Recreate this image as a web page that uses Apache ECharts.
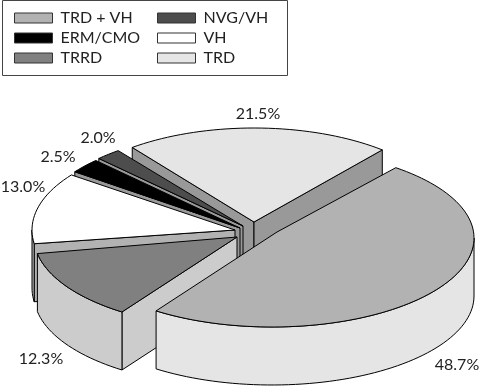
<!DOCTYPE html>
<html><head><meta charset="utf-8">
<style>html,body{margin:0;padding:0;background:#fff}#c{width:482px;height:386px}</style>
<script src="https://cdn.jsdelivr.net/npm/echarts@6/dist/echarts.min.js"></script>
</head><body><div id="c"></div>
<script>
// data
const categories = ['TRD','TRD + VH','TRRD','VH','ERM/CMO','NVG/VH'];
const percents   = [21.5, 48.7, 12.3, 13.0, 2.5, 2.0];
// style and layout, by category
const topColors  = ['#e5e5e5','#b2b2b2','#808080','#ffffff','#000000','#4d4d4d'];
const sideColors = ['#999999','#e5e5e5','#cccccc','#b2b2b2','#999999','#999999'];
const drawOrder  = [0,5,4,3,2,1];
const legendLeft = ['TRD + VH','ERM/CMO','TRRD'];
const legendRight= ['NVG/VH','VH','TRD'];
const startDeg = 232.5, depth = 58, FONT = '16px Lato, sans-serif';
// exploded apex x,y; radii rx,ry; arc centre shift x,y
const shapes = [[254,222,200,94,0,0],[277,232,202,89,-5,6],[237,237,203,91,0,0],[235,230,203,93,0,0],[240,228,205,95,0,0],[243,226,205,95,0,0]];
const nudges = [[0,0],[-2.1,-0.2],[-0.7,0],[2,0],[0,0],[0,0]];
const labelAt = [[258,114],[457,365],[41,359],[23,187],[58,157],[98,138]];

const total = percents.reduce((a,b)=>a+b,0);
const rad = d => d*Math.PI/180;
function renderSlice(i, api){
  const value = api.value(0);
  let before = 0; for(let k=0;k<i;k++) before += percents[k];
  const t1 = startDeg + before/total*360 + nudges[i][0];
  const t2 = startDeg + (before+value)/total*360 + nudges[i][1];
  const [ax,ay,rx,ry,sx,sy] = shapes[i];
  const pt = (t,dy=0)=>[ax+sx+rx*Math.cos(rad(t)), ay+sy+ry*Math.sin(rad(t))+dy];
  const arc = (a,b,dy=0)=>{const n=Math.max(2,Math.ceil((b-a)/2)),r=[];for(let j=0;j<=n;j++)r.push(pt(a+(b-a)*j/n,dy));return r;};
  const stroke={stroke:'#000',lineWidth:1,lineJoin:'round'};
  const kids=[];
  const poly=(points,fill)=>kids.push({type:'polygon',shape:{points},style:Object.assign({fill},stroke)});
  const cut=(t)=>{const p=pt(t);poly([[ax,ay],p,[p[0],p[1]+depth],[ax,ay+depth]],sideColors[i]);};
  if(Math.cos(rad(t1))<0) cut(t1);
  if(Math.cos(rad(t2))>0) cut(t2);
  for(const k of [0,360]){
    const a=Math.max(t1,k), b=Math.min(t2,k+180);
    if(b>a) poly(arc(a,b).concat(arc(a,b,depth).reverse()),sideColors[i]);
  }
  poly([[ax,ay]].concat(arc(t1,t2)),topColors[i]);
  kids.push({type:'text',style:{text:value.toFixed(1)+'%',x:labelAt[i][0],y:labelAt[i][1],align:'center',verticalAlign:'middle',fill:'#222',font:FONT}});
  return {type:'group',children:kids};
}
const legendBase={orient:'vertical',top:8,itemWidth:38,itemHeight:10,itemGap:0,icon:'rect',
  itemStyle:{borderColor:'#333',borderWidth:1},padding:0,
  textStyle:{color:'#222',fontSize:16,fontFamily:'Lato, sans-serif',lineHeight:20,padding:[0,0,0,3]},selectedMode:false};
const chart=echarts.init(document.getElementById('c'),null,{renderer:'canvas'});
chart.setOption({
  animation:false,backgroundColor:'#fff',
  legend:[Object.assign({left:14,data:legendLeft},legendBase),Object.assign({left:157,data:legendRight},legendBase)],
  graphic:[{type:'rect',shape:{x:2.5,y:0.5,width:285,height:75},style:{fill:'none',stroke:'#444',lineWidth:1},z:-1}],
  series:drawOrder.map((i,o)=>({
    type:'custom',name:categories[i],coordinateSystem:'none',silent:true,z:2+o,
    itemStyle:{color:topColors[i]},data:[[percents[i]]],
    renderItem:(p,api)=>renderSlice(i,api)
  }))
});
</script></body></html>
